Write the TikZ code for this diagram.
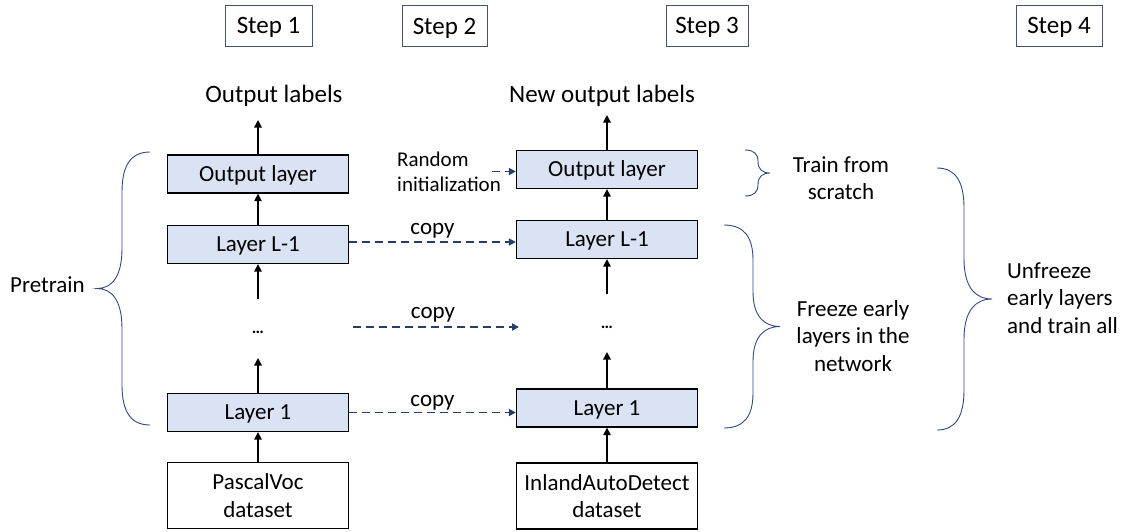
\documentclass[tikz,border=0pt]{standalone}
\usepackage{fontspec}
\setmainfont{Carlito}
\usetikzlibrary{arrows.meta}
\definecolor{layerfill}{RGB}{218,227,243}
\definecolor{navy}{RGB}{38,62,106}
\definecolor{braceblue}{RGB}{47,75,125}
\definecolor{stepborder}{RGB}{68,84,106}
\newcommand{\mybrace}[6]{%
  \draw[bracestyle] (#1,#4) .. controls ({#1+0.7*(#2-#1)},#4) and (#2,{#4+0.35*#6}) .. (#2,{#4+#6})
    -- (#2,{(#4+#5)/2-#6}) .. controls (#2,{(#4+#5)/2-0.3*#6}) and ({#2+0.4*(#3-#2)},{(#4+#5)/2}) .. (#3,{(#4+#5)/2})
    .. controls ({#2+0.4*(#3-#2)},{(#4+#5)/2}) and (#2,{(#4+#5)/2+0.3*#6}) .. (#2,{(#4+#5)/2+#6})
    -- (#2,{#5-#6}) .. controls (#2,{#5-0.35*#6}) and ({#1+0.7*(#2-#1)},#5) .. (#1,#5);}
\tikzset{
  txt/.style={font=\fontsize{23}{27.6}\selectfont, inner sep=0pt},
  bigtxt/.style={font=\fontsize{25}{30}\selectfont, inner sep=0pt},
  layer/.style={draw=black, line width=1.3pt, fill=layerfill, minimum width=181pt, minimum height=38pt,
    inner sep=0pt, text height=14.8pt, text depth=0pt, font=\fontsize{23}{27.6}\selectfont},
  databox/.style={draw=black, line width=1.3pt, fill=white, minimum width=181pt, minimum height=66pt,
    inner sep=0pt, align=center, font=\fontsize{23}{27.6}\selectfont},
  stepbox/.style={draw=stepborder, line width=0.8pt, minimum height=41pt, inner sep=0pt,
    text height=16pt, text depth=0pt, font=\fontsize{25}{30}\selectfont},
  arr/.style={line width=1.4pt, draw=black, -{Triangle[length=7.5pt,width=7.5pt]}},
  copyarr/.style={line width=1.7pt, draw=navy, dash pattern=on 8pt off 5pt, -{Triangle[length=7pt,width=7pt]}},
  bracestyle/.style={draw=braceblue, line width=0.9pt},
  dots/.style={font=\fontsize{17}{17}\selectfont\bfseries, inner sep=0pt}
}
\begin{document}
\begin{tikzpicture}[x=1pt,y=-1pt]
\useasboundingbox (0,0) rectangle (1121,531);
% step boxes
\node[stepbox, minimum width=87pt] (step1) at (268.5,25.5) {Step 1};
\node[stepbox, minimum width=85pt] (step2) at (444.5,26) {Step 2};
\node[stepbox, minimum width=82pt] (step3) at (707,25.5) {Step 3};
\node[stepbox, minimum width=86pt] (step4) at (1059,25.5) {Step 4};
% left column
\node[bigtxt, anchor=base] (lblL) at (274,102) {Output labels};
\node[layer] (outL) at (258,174) {Output layer};
\node[layer] (l2L) at (258,244.5) {Layer L-1};
\node[dots] (dotsL) at (258,332) {…};
\node[layer] (l1L) at (258,412.5) {Layer 1};
\node[databox] (dataL) at (258,495.5) {PascalVoc\\dataset};
\coordinate (tipL) at (258,120);
\coordinate (endL) at (258,299);
\coordinate (tip2L) at (258,358);
% right column
\node[bigtxt, anchor=base] (lblR) at (602,102) {New output labels};
\node[layer] (outR) at (607,169.5) {Output layer};
\node[layer] (l2R) at (607,239.5) {Layer L-1};
\node[dots] (dotsR) at (607,327) {…};
\node[layer] (l1R) at (607,408) {Layer 1};
\node[databox] (dataR) at (607,496) {InlandAutoDetect\\dataset};
\coordinate (tipR) at (607,115);
\coordinate (endR) at (607,294);
\coordinate (tip2R) at (607,352);
% vertical arrows
\draw[arr] (outL.north) -- (tipL);
\draw[arr] (l2L.north) -- (outL.south);
\draw[arr] (endL) -- (l2L.south);
\draw[arr] (l1L.north) -- (tip2L);
\draw[arr] (dataL.north) -- (l1L.south);
\draw[arr] (outR.north) -- (tipR);
\draw[arr] (l2R.north) -- (outR.south);
\draw[arr] (endR) -- (l2R.south);
\draw[arr] (l1R.north) -- (tip2R);
\draw[arr] (dataR.north) -- (l1R.south);
% copy arrows
\draw[copyarr] ([yshift=2.5pt]l2L.east) -- ([yshift=2.5pt]l2L.east -| l2R.west)
  node[midway, txt, anchor=base, yshift=8pt, xshift=0pt] (copy1) {copy};
\coordinate (cm1) at (353,327);
\coordinate (cm2) at (519,327);
\draw[copyarr] (cm1) -- (cm2) node[midway, txt, anchor=base, yshift=9pt, xshift=-3pt] (copy2) {copy};
\draw[copyarr] (l1L.east) -- (l1L.east -| l1R.west)
  node[midway, txt, anchor=base, yshift=6pt] (copy3) {copy};
% random initialization
\node[inner sep=0pt, align=left, anchor=west, font=\fontsize{21}{25}\selectfont] (rinit) at (397,172) {Random\\initialization};
\coordinate (ri) at (492,171.5);
\draw[copyarr] (ri) -- (ri -| outR.west);
% braces and their texts
\mybrace{150}{122}{97}{152}{425}{40}
\node[txt, anchor=base west] (pretrain) at (10,292) {Pretrain};
\mybrace{745}{758}{770}{150}{196}{11.5}
\node[txt, align=center] (train) at (841,178) {Train from\\scratch};
\mybrace{724}{753}{780}{225}{428}{35}
\node[txt, align=center] (freeze) at (853,336) {Freeze early\\layers in the\\network};
\mybrace{937}{964}{992}{168}{430}{40}
\node[txt, align=left, anchor=west] (unfreeze) at (1007,298) {Unfreeze\\early layers\\and train all};
\end{tikzpicture}
\end{document}
